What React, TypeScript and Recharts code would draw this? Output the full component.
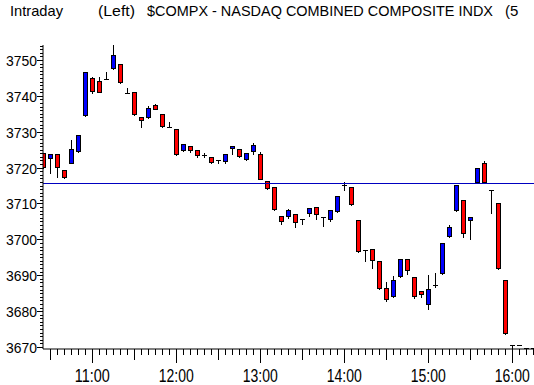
import React from 'react';
import { ComposedChart, Bar, XAxis, YAxis, ReferenceLine } from 'recharts';

const times = [
  '10:25','10:30','10:35','10:40','10:45','10:50','10:55',
  '11:00','11:05','11:10','11:15','11:20','11:25','11:30','11:35','11:40','11:45','11:50','11:55',
  '12:00','12:05','12:10','12:15','12:20','12:25','12:30','12:35','12:40','12:45','12:50','12:55',
  '13:00','13:05','13:10','13:15','13:20','13:25','13:30','13:35','13:40','13:45','13:50','13:55',
  '14:00','14:05','14:10','14:15','14:20','14:25','14:30','14:35','14:40','14:45','14:50','14:55',
  '15:00','15:05','15:10','15:15','15:20','15:25','15:30','15:35','15:40','15:45','15:50','15:55',
  '16:00','16:05','16:10','16:15',
];

const opens = [
  3724.0,3722.6,3723.7,3719.3,3721.4,3724.7,3734.7,
  3744.9,3744.1,3744.6,3747.7,3748.8,3740.7,3741.0,3734.0,3734.2,3737.4,3734.9,3731.4,
  3730.7,3725.0,3725.9,3724.8,3723.6,3722.9,3722.0,3721.9,3725.4,3725.1,3722.5,3724.7,
  3723.7,3716.4,3714.5,3706.4,3706.4,3707.0,3705.8,3707.3,3708.9,3706.2,3705.6,3707.8,
  3715.2,3714.6,3705.3,3697.1,3697.2,3694.0,3686.4,3684.2,3689.9,3694.4,3689.4,3685.5,
  3682.1,3687.4,3690.7,3701.0,3708.2,3710.9,3705.5,3716.1,3721.2,3713.7,3710.0,3688.6,
  3670.5,3670.5,3669.7,3669.7,
];
const highs = [
  3724.2,3723.8,3723.7,3719.3,3727.7,3729.0,3746.6,
  3745.3,3745.3,3746.6,3754.2,3748.8,3742.1,3741.0,3734.0,3737.2,3737.7,3734.9,3732.8,
  3730.7,3726.6,3725.9,3724.8,3724.1,3722.9,3722.0,3723.7,3725.9,3725.1,3724.0,3726.8,
  3724.3,3716.4,3714.5,3706.4,3708.5,3707.0,3705.8,3708.7,3708.9,3706.2,3708.1,3712.1,
  3716.0,3714.6,3705.3,3697.1,3697.2,3694.0,3688.0,3689.8,3694.4,3694.4,3689.4,3685.5,
  3690.1,3690.6,3698.9,3704.0,3715.2,3710.9,3706.2,3719.8,3721.9,3713.7,3710.0,3688.6,
  3670.5,3670.5,3669.7,3669.7,
];
const lows = [
  3720.0,3718.6,3717.5,3717.0,3721.2,3724.4,3734.4,
  3740.9,3741.0,3744.6,3747.4,3743.7,3740.7,3734.6,3731.4,3733.9,3736.4,3731.3,3731.2,
  3723.6,3724.7,3724.4,3723.0,3723.0,3721.4,3721.4,3721.4,3723.9,3722.9,3722.2,3723.9,
  3716.7,3714.0,3708.2,3704.4,3706.0,3703.4,3704.2,3706.6,3705.6,3703.8,3705.2,3707.5,
  3713.8,3709.7,3696.5,3694.1,3692.1,3686.1,3682.9,3683.9,3689.4,3690.4,3683.7,3684.0,
  3680.7,3686.8,3690.4,3700.7,3707.9,3700.7,3700.1,3715.8,3715.8,3707.3,3691.8,3673.7,
  3669.4,3670.5,3669.7,3669.7,
];
const closes = [
  3720.3,3723.8,3720.1,3717.3,3725.2,3729.0,3746.6,
  3741.4,3741.2,3744.6,3751.3,3744.0,3740.7,3734.9,3733.2,3736.5,3736.4,3731.6,3731.4,
  3723.9,3726.6,3724.8,3723.4,3723.6,3721.6,3722.0,3723.7,3725.9,3723.2,3724.0,3726.2,
  3716.9,3714.4,3708.6,3705.2,3708.1,3704.9,3705.8,3708.7,3707.0,3706.2,3708.1,3712.1,
  3715.2,3709.9,3696.8,3697.1,3694.2,3686.4,3683.3,3688.7,3694.4,3691.4,3684.1,3684.9,
  3686.1,3687.4,3698.9,3703.4,3715.2,3701.7,3706.2,3719.8,3716.1,3713.7,3692.1,3674.0,
  3670.5,3670.5,3669.7,3669.7,
];

const refLevel = 3715.57;
const yMajorLabels = ['3670','3680','3690','3700','3710','3720','3730','3740','3750'];

const Y_MIN = 3669.44;
const Y_MAX = 3754.18;
const X_MIN = 24.79;
const X_MAX = 375.5;

const toMin = (s: string) => {
  const [h, m] = s.split(':').map(Number);
  return (h - 10) * 60 + m;
};

const rows = times.map((t, i) => ({
  label: t,
  t: toMin(t),
  o: opens[i],
  h: highs[i],
  l: lows[i],
  c: closes[i],
  band: [Y_MIN, Y_MAX],
}));

const xTicks = rows.filter((r) => r.t > 25).map((r) => r.t);
const yTicks: number[] = [];
for (let v = 3670; v <= 3754; v++) yTicks.push(v);

const FONT = '"Liberation Sans", Arial, sans-serif';

const Candle = (props: any) => {
  const { x, y, width, height, payload } = props;
  if (payload == null || height == null) return null;
  const k = height / (Y_MAX - Y_MIN);
  const py = (v: number) => y + (Y_MAX - v) * k;
  const cx = Math.round(x + width / 2);
  const wx = cx + 0.5;
  const yh = Math.round(py(payload.h));
  const yl = Math.round(py(payload.l));
  const yo = Math.round(py(payload.o));
  const yc = Math.round(py(payload.c));
  const top = Math.min(yo, yc);
  const bot = Math.max(yo, yc);
  let body;
  if (payload.o === payload.c) {
    body = <line x1={cx - 2} x2={cx + 3} y1={yo + 0.5} y2={yo + 0.5} stroke="#000" strokeWidth={1} />;
  } else {
    const fill = payload.c > payload.o ? '#0000ff' : '#ff0000';
    body = (
      <rect x={cx - 1.5} y={top + 0.5} width={4} height={Math.max(1, bot - top)} fill={fill} stroke="#000" strokeWidth={1} />
    );
  }
  return (
    <g>
      {yh !== yl && <line x1={wx} x2={wx} y1={yh} y2={yl + 1} stroke="#000" strokeWidth={1} />}
      {body}
    </g>
  );
};

const YTick = (props: any) => {
  const { x, y, payload } = props;
  const v = payload.value;
  const label = yMajorLabels.find((s) => Number(s) === v);
  const len = label ? 6 : 3;
  const yy = Math.round(y) + 0.5;
  return (
    <g>
      <line x1={x} x2={x - len} y1={yy} y2={yy} stroke="#000" strokeWidth={1} />
      {label && (
        <text x={x - 6} y={y + 6} textAnchor="end" fontSize={15} fontFamily={FONT} fill="#000" textLength={31} lengthAdjust="spacingAndGlyphs">
          {label}
        </text>
      )}
    </g>
  );
};

const XTick = (props: any) => {
  const { x, y, payload } = props;
  const v = payload.value;
  const row = rows.find((r) => r.t === v);
  const lbl = row ? row.label : '';
  const isHour = lbl.endsWith(':00');
  const isHalf = lbl.endsWith(':30');
  const len = isHour ? 14 : isHalf ? 11 : 6;
  const xx = Math.round(x) + 0.5;
  return (
    <g>
      <line x1={xx} x2={xx} y1={y} y2={y + len} stroke="#000" strokeWidth={1} />
      {isHour && (
        <text
          transform={`translate(${x},${y + 33}) scale(0.75,1)`}
          x={0}
          y={0}
          textAnchor="middle"
          fontSize={18}
          fontFamily={FONT}
          fill="#000"
          textLength={46.7}
          lengthAdjust="spacingAndGlyphs"
        >
          {lbl}
        </text>
      )}
    </g>
  );
};

export default function App() {
  return (
    <div style={{ position: 'absolute', left: 0, top: 0, width: 534, height: 385, background: '#fff', overflow: 'hidden' }}>
      <ComposedChart width={534} height={385} data={rows} margin={{ top: 45, right: 0, bottom: 0, left: 0 }}>
        <XAxis
          dataKey="t"
          type="number"
          domain={[X_MIN, X_MAX]}
          allowDataOverflow
          ticks={xTicks}
          interval={0}
          height={36}
          tickSize={0}
          tickMargin={0}
          tickLine={false}
          axisLine={{ stroke: '#000', strokeWidth: 1 }}
          tick={<XTick />}
        />
        <YAxis
          type="number"
          domain={[Y_MIN, Y_MAX]}
          allowDataOverflow
          ticks={yTicks}
          interval={0}
          width={43}
          tickSize={0}
          tickMargin={0}
          tickLine={false}
          axisLine={{ stroke: '#000', strokeWidth: 1 }}
          tick={<YTick />}
        />
        <ReferenceLine y={refLevel} stroke="#0000c0" strokeWidth={1} />
        <Bar dataKey="band" barSize={5} shape={<Candle />} isAnimationActive={false} />
      </ComposedChart>
      <svg width={534} height={30} style={{ position: 'absolute', left: 0, top: 0 }}>
        <text x={10} y={16} fontSize={15} fontFamily={FONT} fill="#000" textLength={53} lengthAdjust="spacingAndGlyphs">Intraday</text>
        <text x={98} y={16} fontSize={15} fontFamily={FONT} fill="#000" textLength={37} lengthAdjust="spacingAndGlyphs">(Left)</text>
        <text x={147} y={16} fontSize={15} fontFamily={FONT} fill="#000" textLength={346} lengthAdjust="spacingAndGlyphs">$COMPX - NASDAQ COMBINED COMPOSITE INDX</text>
        <text x={505} y={16} fontSize={15} fontFamily={FONT} fill="#000">(5</text>
      </svg>
    </div>
  );
}
